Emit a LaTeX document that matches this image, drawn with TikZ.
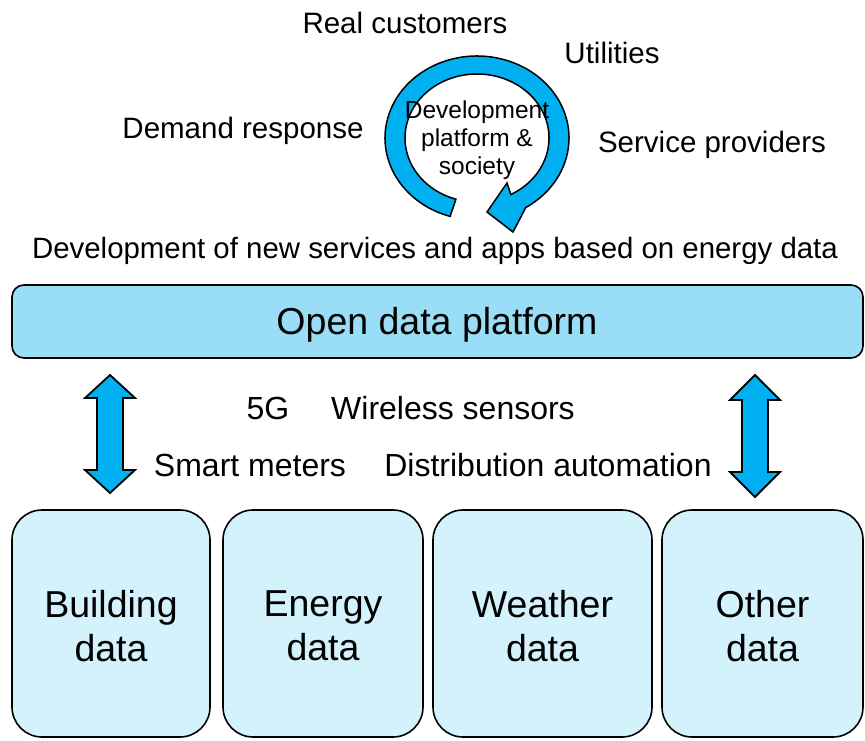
\documentclass[tikz,border=0pt]{standalone}
\usepackage{fontspec}
\setmainfont{Liberation Sans}
\usetikzlibrary{calc}

\definecolor{platformblue}{RGB}{153,221,246}
\definecolor{boxblue}{RGB}{212,242,252}
\definecolor{arrowblue}{RGB}{0,176,240}

\tikzset{
  platform/.style={draw, line width=1.6pt, fill=platformblue, rounded corners=12pt},
  databox/.style={draw, line width=1.6pt, fill=boxblue, rounded corners=30pt},
  bigtext/.style={font=\fontsize{37.5}{44}\selectfont, align=center, inner sep=0pt},
  lbl/.style={font=\fontsize{29.5}{34}\selectfont, inner sep=0pt},
  linklbl/.style={font=\fontsize{32}{38}\selectfont, inner sep=0pt},
  blockarrow/.style={draw, line width=1.8pt, fill=arrowblue, line join=miter}
}

\begin{document}
\begin{tikzpicture}[x=1pt, y=-1pt]
\useasboundingbox (0,0) rectangle (865,741);

% platform and data sources
\draw[platform] (12,285) rectangle (863,358);
\node[bigtext, name=platform] at (437,325) {Open data platform};
\foreach \left/\right/\name/\txt in {12/210/building/Building, 223/423/energy/Energy, 433/652/weather/Weather, 662/863/other/Other} {
  \draw[databox] (\left,510) rectangle (\right,737);
  \node[bigtext, name=\name] at ({(\left+\right)/2},626) {\txt\\data};
}

% double arrows between platform and data
\foreach \x/\a/\b/\c/\d in {110/375/398/470/493, 755/375/400/472/497}
  \draw[blockarrow] (\x,\a) -- (\x+25,\b) -- (\x+13,\b) -- (\x+13,\c) -- (\x+25,\c)
    -- (\x,\d) -- (\x-25,\c) -- (\x-13,\c) -- (\x-13,\b) -- (\x-25,\b) -- cycle;

% cycle arrow
\coordinate (cyc) at (477,138);
\draw[blockarrow, line width=1.5pt] ($(cyc)+(107:92 and 82)$)
  arc[start angle=107, end angle=418, x radius=92, y radius=82]
  -- (513,232) -- (487,212) -- (507,183)
  -- ($(cyc)+(422:72 and 64)$)
  arc[start angle=422, end angle=107, x radius=72, y radius=64] -- cycle;
\node[font=\fontsize{24.5}{28}\selectfont, align=center, inner sep=0pt, name=society] at (477,140) {Development\\platform \&\\society};

% labels
\foreach \x/\y/\name/\txt in {405/23/customers/Real customers, 612/53/utilities/Utilities,
    243/131/demand/Demand response, 712/145/providers/Service providers}
  \node[lbl, name=\name] at (\x,\y) {\txt};
\node[lbl, font=\fontsize{29.4}{34}\selectfont, name=services] at (435,251) {Development of new services and apps based on energy data};
\foreach \x/\y/\name/\txt in {268/408/fiveg/5G, 453/408/sensors/Wireless sensors,
    250/465/meters/Smart meters, 548/465/automation/Distribution automation}
  \node[linklbl, name=\name] at (\x,\y) {\txt};
\end{tikzpicture}
\end{document}
